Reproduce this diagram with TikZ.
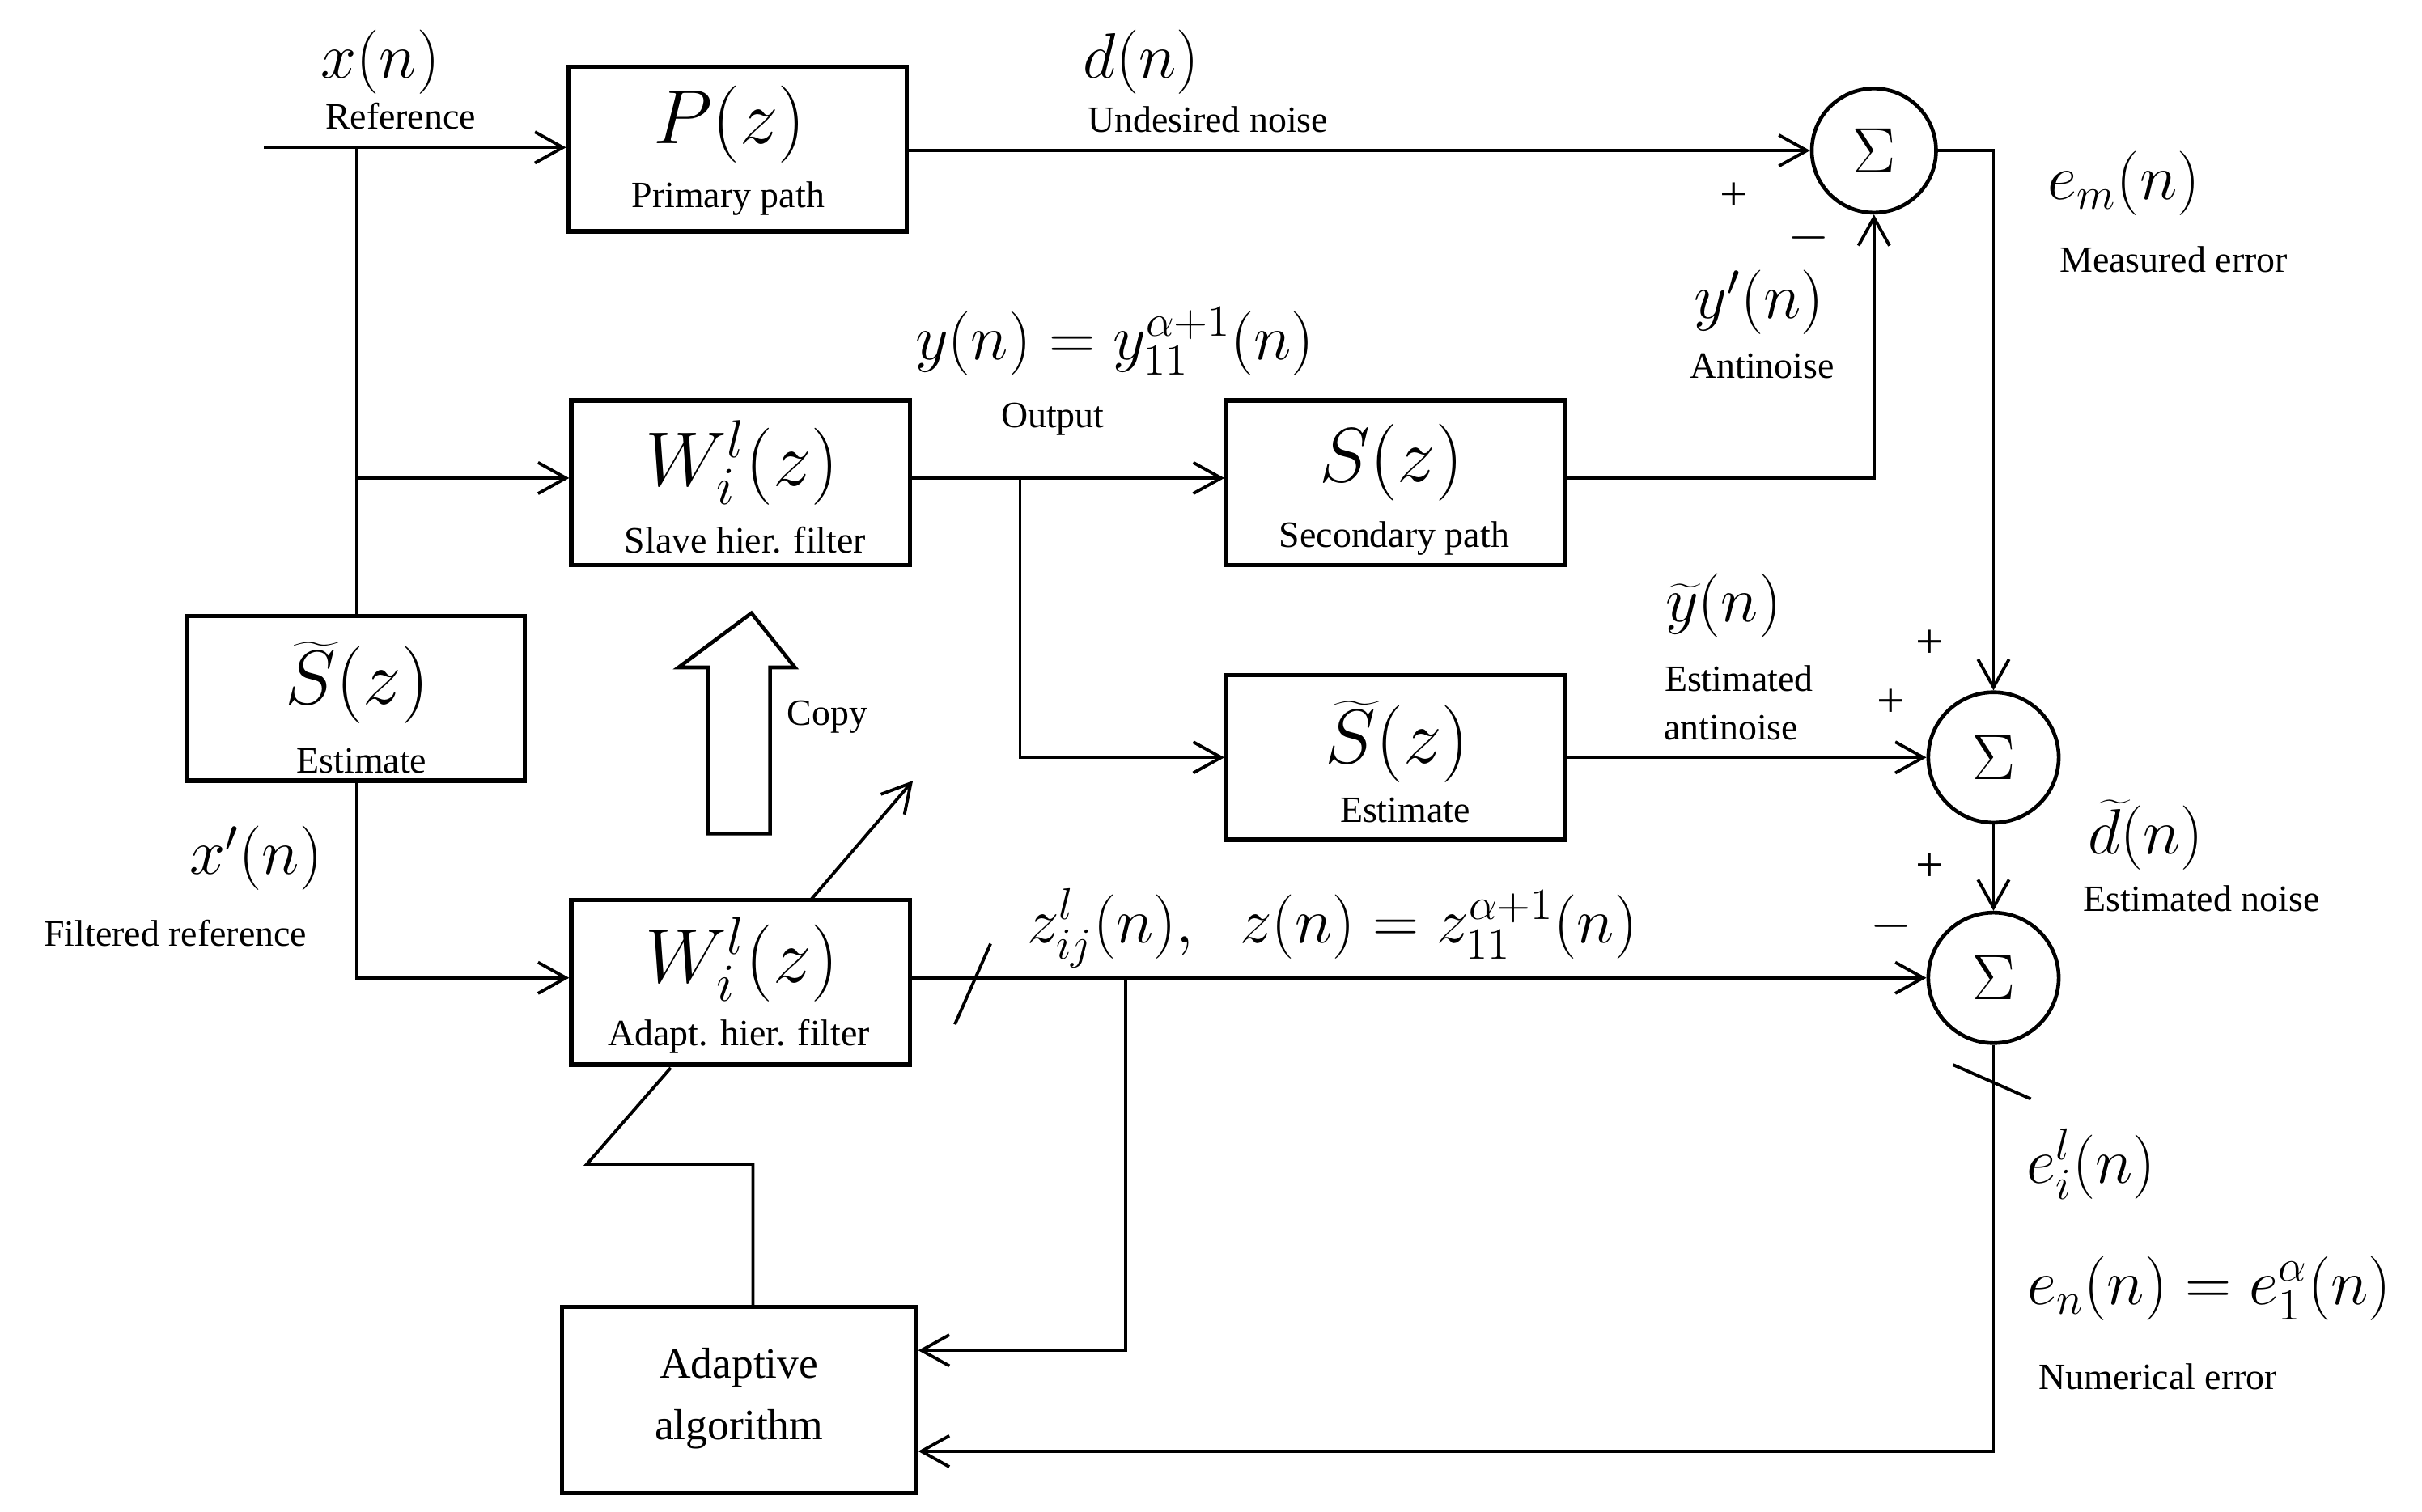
\documentclass[tikz,border=0pt]{standalone}
\usepackage{fontspec}
\setmainfont{Liberation Serif}
\usetikzlibrary{arrows.meta,calc}
\begin{document}
\begin{tikzpicture}[x=0.5bp,y=-0.5bp,
  line width=1bp,
  >={Straight Barb[length=9bp,width=10bp]},
  blk/.style={draw,line width=1.4bp,minimum width=109bp,minimum height=53bp,inner sep=0pt},
  sum/.style={draw,circle,line width=1.2bp,minimum size=40bp,inner sep=0pt,font=\fontsize{22}{24}\selectfont},
  lbl/.style={font=\fontsize{12}{13}\selectfont,inner sep=0pt},
  big/.style={font=\fontsize{26}{28}\selectfont,inner sep=0pt},
  mid/.style={font=\fontsize{20}{22}\selectfont,inner sep=0pt}]
\useasboundingbox (0,0) rectangle (1560,974);
% blocks
\node[blk] (P) at (475,96) {};
\node[blk] (Ws) at (477,311) {};
\node[blk] (S) at (899,311) {};
\node[blk] (Se) at (899,488) {};
\node[blk] (Sl) at (229,450) {};
\node[blk] (Wa) at (477,633) {};
\node[blk,minimum width=114bp,minimum height=60bp] (AA) at (476,902) {};
\node[sum] (s1) at (1207,97) {$\Sigma$};
\node[sum,minimum size=42bp] (s2) at (1284,488) {$\Sigma$};
\node[sum,minimum size=42bp] (s3) at (1284,630) {$\Sigma$};
% block texts
\node[big] at (470,80) {$P(z)$};
\node[lbl] at (469,128) {Primary path};
\node[big] at (478,298) {$W_i^l(z)$};
\node[lbl] at (480,348) {Slave hier. filter};
\node[big] at (896,298) {$S(z)$};
\node[lbl] at (898,347) {Secondary path};
\node[big] at (230,440) {$\widetilde{S}(z)$};
\node[lbl] at (233,490) {Estimate};
\node[big] at (900,478) {$\widetilde{S}(z)$};
\node[lbl] at (905,522) {Estimate};
\node[big] at (478,618) {$W_i^l(z)$};
\node[lbl] at (476,668) {Adapt. hier. filter};
\node[lbl,font=\fontsize{14}{16}\selectfont,align=center] at (476,901) {Adaptive\\[4bp]algorithm};
% connectors
\coordinate (in) at (170,95);
\coordinate (j1) at (230,95);
\coordinate (j2) at (230,308);
\draw[->] (in) -- (P.west|-in);
\draw (j1) -- (Sl.north-|j1);
\draw[->] (j2) -- (Ws.west|-j2);
\draw[->] (Sl.south-|j1) |- (Wa.west|-s3);
\draw[->] (P.east|-s1) -- (s1.west);
\coordinate (j3) at (657,308);
\draw[->] (Ws.east|-j3) -- (S.west|-j3);
\draw[->] (j3) |- (Se.west|-s2);
\draw[->] (S.east|-j3) -| (s1.south);
\draw[->] (s1.east) -| (s2.north);
\draw[->] (Se.east|-s2) -- (s2.west);
\draw[->] (s2.south) -- (s3.north);
\draw[->] (Wa.east|-s3) -- (s3.west);
\draw (615,660) -- (638,608);
\coordinate (j4) at (725,630);
\draw[->] (j4) |- (AA.east|-0,870);
\draw[->] (s3.south) |- (AA.east|-0,935);
\draw (1258,686) -- (1308,708);
\draw (AA.north-|485,0) |- (378,750) -- (432,688);
\draw[->] (522,580) -- (588,503);
% copy arrow
\draw[line width=1.2bp] (456,537) -- (456,430) -- (437,430) -- (484,395) -- (512,430) -- (496,430) -- (496,537) -- cycle;
% labels
\node[mid] at (245,40) {$x(n)$};
\node[lbl] at (258,75) {Reference};
\node[mid] at (735,40) {$d(n)$};
\node[lbl] at (778,77) {Undesired noise};
\node[lbl,font=\fontsize{16}{18}\selectfont] at (1117,127) {+};
\node[lbl,font=\fontsize{16}{18}\selectfont] at (1165,153) {$-$};
\node[mid] at (1368,118) {$e_m(n)$};
\node[lbl] at (1400,167) {Measured error};
\node[mid] at (1133,195) {$y'(n)$};
\node[lbl] at (1135,236) {Antinoise};
\node[mid] at (718,220) {$y(n)=y_{11}^{\alpha+1}(n)$};
\node[lbl] at (678,270) {Output};
\node[mid] at (1110,390) {$\widetilde{y}(n)$};
\node[lbl] at (1120,437) {Estimated};
\node[lbl] at (1115,469) {antinoise};
\node[lbl,font=\fontsize{16}{18}\selectfont] at (1243,415) {+};
\node[lbl,font=\fontsize{16}{18}\selectfont] at (1218,453) {+};
\node[lbl] at (533,462) {Copy};
\node[mid] at (1382,538) {$\widetilde{d}(n)$};
\node[lbl] at (1418,579) {Estimated noise};
\node[lbl,font=\fontsize{16}{18}\selectfont] at (1243,559) {+};
\node[lbl,font=\fontsize{16}{18}\selectfont] at (1218,597) {$-$};
\node[mid] at (165,553) {$x'(n)$};
\node[lbl] at (113,601) {Filtered reference};
\node[mid] at (858,598) {$z_{ij}^l(n),\;\; z(n)=z_{11}^{\alpha+1}(n)$};
\node[mid] at (1347,750) {$e_i^l(n)$};
\node[mid] at (1423,830) {$e_n(n)=e_1^{\alpha}(n)$};
\node[lbl] at (1390,887) {Numerical error};
\end{tikzpicture}
\end{document}
